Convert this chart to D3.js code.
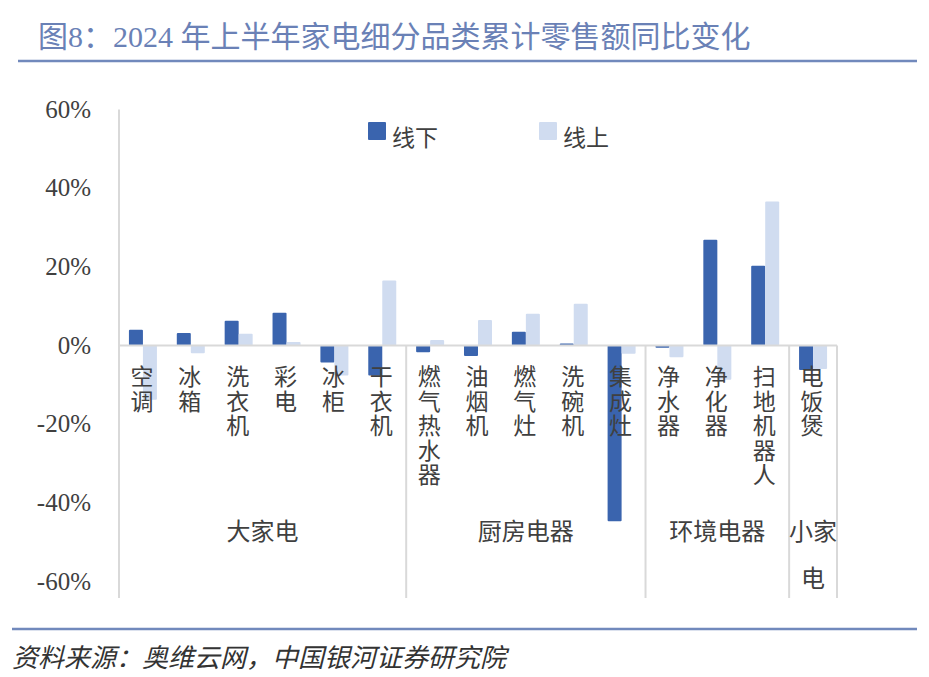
<!DOCTYPE html>
<html>
<head>
<meta charset="utf-8">
<script src="https://cdn.jsdelivr.net/npm/d3@7"></script>
<style>
  body { margin: 0; background: #fff; }
</style>
</head>
<body>
<div id="vis"></div>
<script>
/* data */
let groups = ["大家电", "厨房电器", "环境电器", "小家电"];
let groupSizes = [6, 5, 3, 1];
let categories = ["空调", "冰箱", "洗衣机", "彩电", "冰柜", "干衣机",
  "燃气热水器", "油烟机", "燃气灶", "洗碗机", "集成灶",
  "净水器", "净化器", "扫地机器人", "电饭煲"];
let offline = [4.0, 3.2, 6.3, 8.3, -4.3, -7.6, -1.7, -2.7, 3.5, 0.5, -44.7, -0.6, 26.9, 20.3, -6.2];
let online = [-13.8, -2.0, 3.0, 0.9, -7.6, 16.5, 1.4, 6.5, 8.1, 10.6, -2.1, -3.0, -8.7, 36.6, -6.0];
let seriesNames = ["线下", "线上"];
let yTicks = [60, 40, 20, 0, -20, -40, -60];

/* display */
let width = 929;
let height = 677;
let colors = ["#3a64ae", "#d0dcf0"];
let gridColor = "#d9d9d9";
let ruleColor = "#7189bc";
let textColor = "#404040";
let cjk = "'Liberation Serif', 'Noto Sans CJK SC', serif";

/* geometry */
let boundsX = [119, 837];
let boundsY = [109.5, 581.5];
let axisBottom = 598;

/* scales */
let x0 = d3.scaleBand()
  .domain(categories)
  .range(boundsX)
  .paddingInner(0.415)
  .paddingOuter(0.2075);
let x1 = d3.scaleBand()
  .domain(seriesNames)
  .range([0, x0.bandwidth()]);
let y = d3.scaleLinear()
  .domain([-60, 60])
  .range([boundsY[1], boundsY[0]]);

let svg = d3.select("#vis").append("svg")
  .attr("width", width)
  .attr("height", height);

/* title and rules */
svg.append("text")
  .attr("x", 38)
  .attr("y", 47)
  .attr("font-family", cjk)
  .attr("font-size", 30)
  .attr("fill", "#6a81b6")
  .text("图8：2024 年上半年家电细分品类累计零售额同比变化");
svg.append("line")
  .attr("x1", 18).attr("x2", 917)
  .attr("y1", 61).attr("y2", 61)
  .attr("stroke", ruleColor).attr("stroke-width", 2.5);
svg.append("line")
  .attr("x1", 12).attr("x2", 917)
  .attr("y1", 629).attr("y2", 629)
  .attr("stroke", ruleColor).attr("stroke-width", 2.5);
svg.append("text")
  .attr("x", 12)
  .attr("y", 667)
  .attr("font-family", cjk)
  .attr("font-size", 26)
  .attr("font-style", "italic")
  .attr("fill", "#333")
  .text("资料来源：奥维云网，中国银河证券研究院");

/* bars */
let series = [offline, online];
let rows = categories.map((c, i) => ({ cat: c, vals: series.map((s, k) => ({ key: seriesNames[k], v: s[i], k })) }));
let barG = svg.append("g");
barG.selectAll("g")
  .data(rows)
  .join("g")
    .attr("transform", d => "translate(" + x0(d.cat) + ",0)")
  .selectAll("rect")
  .data(d => d.vals)
  .join("rect")
    .attr("x", d => x1(d.key))
    .attr("width", x1.bandwidth())
    .attr("y", d => y(Math.max(0, d.v)))
    .attr("height", d => Math.abs(y(d.v) - y(0)))
    .attr("rx", 1)
    .attr("fill", d => colors[d.k]);

/* axis lines and group separators */
let ctx = d3.path();
ctx.moveTo(boundsX[0], boundsY[0]);
ctx.lineTo(boundsX[0], axisBottom);
ctx.moveTo(boundsX[0], y(0));
ctx.lineTo(boundsX[1], y(0));
let edge = 0;
groupSizes.forEach(n => {
  edge += n;
  let xe = boundsX[0] + x0.step() * edge;
  ctx.moveTo(xe, y(0));
  ctx.lineTo(xe, axisBottom);
});
svg.append("path")
  .attr("d", ctx.toString())
  .attr("stroke", gridColor)
  .attr("stroke-width", 2)
  .attr("fill", "none");

/* y tick labels */
svg.append("g")
  .selectAll("text")
  .data(yTicks)
  .join("text")
    .attr("x", 91)
    .attr("y", d => y(d) + 8)
    .attr("text-anchor", "end")
    .attr("font-family", cjk)
    .attr("font-size", 25)
    .attr("fill", textColor)
    .text(d => d + "%");

/* category labels, vertical, one char per line */
svg.append("g")
  .selectAll("text")
  .data(categories)
  .join("text")
    .attr("font-family", cjk)
    .attr("font-size", 23)
    .attr("fill", textColor)
    .attr("text-anchor", "middle")
    .each(function (c) {
      let t = d3.select(this);
      let cx = x0(c) + x0.bandwidth() / 2 - 1;
      Array.from(c).forEach((ch, i) => {
        t.append("tspan")
          .attr("x", cx)
          .attr("y", 385 + i * 24.5)
          .text(ch);
      });
    });

/* group labels */
let start = 0;
let glbl = svg.append("g");
groups.forEach((g, i) => {
  let a = boundsX[0] + x0.step() * start;
  let b = boundsX[0] + x0.step() * (start + groupSizes[i]);
  start += groupSizes[i];
  let t = glbl.append("text")
    .attr("font-family", cjk)
    .attr("font-size", 24)
    .attr("fill", textColor)
    .attr("text-anchor", "middle");
  /* narrow group wraps onto two lines */
  let lines = groupSizes[i] > 1 ? [g] : [g.slice(0, 2), g.slice(2)];
  lines.forEach((l, j) => {
    t.append("tspan")
      .attr("x", (a + b) / 2)
      .attr("y", 540 + j * 47)
      .text(l);
  });
});

/* legend */
let leg = svg.append("g");
let legX = [368, 539];
seriesNames.forEach((s, i) => {
  leg.append("rect")
    .attr("x", legX[i]).attr("y", 122)
    .attr("width", 18).attr("height", 18)
    .attr("rx", 1)
    .attr("fill", colors[i]);
  leg.append("text")
    .attr("x", legX[i] + 24).attr("y", 146)
    .attr("font-family", cjk)
    .attr("font-size", 23)
    .attr("fill", textColor)
    .text(s);
});
</script>
</body>
</html>
